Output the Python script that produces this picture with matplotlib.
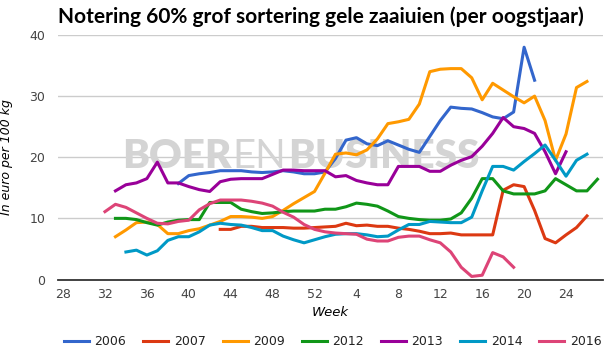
import numpy as np
import matplotlib
matplotlib.use("Agg")
import matplotlib.pyplot as plt

# categories: week 28 of the harvest year through week 27 of the next
weeks = list(range(28, 53)) + list(range(1, 28))
tick_weeks = [28, 32, 36, 40, 44, 48, 52, 4, 8, 12, 16, 20, 24]

N = None
y2006 = [N] * 11 + [15.7, 17.0, 17.3, 17.5, 17.8, 17.8, 17.8, 17.6, 17.5, 17.6,
                    17.8, 17.6, 17.3, 17.3, 17.6, 19.8, 22.8, 23.2, 22.2, 21.9,
                    22.7, 22.0, 21.3, 20.8, 23.4, 26.0, 28.2, 28.0, 27.9, 27.3,
                    26.6, 26.3, 27.4, 38.0, 32.6]
y2007 = [N] * 15 + [8.2, 8.2, 8.7, 8.7, 8.5, 8.5, 8.5, 8.4, 8.4, 8.5,
                    8.6, 8.7, 9.2, 8.8, 8.9, 8.7, 8.7, 8.4, 8.2, 7.9,
                    7.5, 7.5, 7.6, 7.3, 7.3, 7.3, 7.3, 14.6, 15.5, 15.2,
                    11.3, 6.7, 6.0, 7.3, 8.5, 10.4]
y2009 = [N] * 5 + [7.0, 8.1, 9.3, 9.4, 9.0, 7.5, 7.5, 8.0, 8.3, 8.9,
                   9.5, 10.3, 10.3, 10.2, 10.0, 10.3, 11.3, 12.4, 13.4, 14.4,
                   17.4, 20.5, 20.7, 20.4, 21.2, 23.0, 25.5, 25.8, 26.2, 28.7,
                   34.0, 34.4, 34.5, 34.5, 33.0, 29.4, 32.1, 31.0, 29.9, 28.9,
                   30.0, 26.0, 19.5, 23.8, 31.4, 32.4]
y2012 = [N] * 5 + [10.0, 10.0, 9.8, 9.3, 8.9, 9.4, 9.7, 9.8, 9.8, 12.6,
                   12.6, 12.6, 11.5, 11.1, 10.8, 10.9, 11.1, 11.2, 11.2, 11.2,
                   11.5, 11.5, 11.9, 12.5, 12.3, 12.0, 11.2, 10.3, 10.0, 9.8,
                   9.7, 9.7, 9.9, 10.9, 13.3, 16.5, 16.5, 14.5, 14.0, 14.0,
                   14.0, 14.5, 16.5, 15.5, 14.5, 14.5, 16.4]
y2013 = [N] * 5 + [14.5, 15.5, 15.8, 16.5, 19.2, 15.8, 15.8, 15.2, 14.7, 14.4,
                   16.0, 16.4, 16.5, 16.5, 16.5, 17.2, 17.9, 17.9, 17.8, 17.8,
                   17.8, 16.8, 17.0, 16.2, 15.8, 15.5, 15.5, 18.5, 18.5, 18.5,
                   17.7, 17.7, 18.7, 19.5, 20.1, 21.8, 23.9, 26.5, 25.0, 24.7,
                   23.9, 20.9, 17.3, 20.9]
y2014 = [N] * 6 + [4.5, 4.8, 4.0, 4.7, 6.4, 7.0, 7.0, 7.8, 8.9, 9.2,
                   9.0, 8.9, 8.5, 8.0, 8.0, 7.1, 6.5, 6.0, 6.5, 7.0,
                   7.4, 7.5, 7.5, 7.3, 7.0, 7.1, 8.1, 9.0, 9.0, 9.5,
                   9.4, 9.3, 9.3, 10.2, 14.5, 18.5, 18.5, 17.9, 19.3, 20.6,
                   22.0, 19.5, 16.9, 19.5, 20.5]
y2016 = [N] * 4 + [11.1, 12.3, 11.8, 10.9, 10.0, 9.2, 9.1, 9.5, 9.7, 11.4,
                   12.4, 13.0, 13.0, 13.0, 12.8, 12.5, 12.0, 11.0, 10.2, 9.0,
                   8.2, 7.8, 7.6, 7.5, 7.4, 6.6, 6.3, 6.3, 6.9, 7.1,
                   7.1, 6.5, 6.0, 4.5, 2.0, 0.5, 0.7, 4.4, 3.7, 2.0]

labels = ["2006", "2007", "2009", "2012", "2013", "2014", "2016"]
series = [y2006, y2007, y2009, y2012, y2013, y2014, y2016]
colors = ["#3366cc", "#dc3912", "#ff9900", "#109618", "#990099", "#0099c6", "#dd4477"]

fig = plt.figure(figsize=(6.15, 3.51), dpi=100)
ax = fig.add_axes([0.094, 0.2037, 0.886, 0.6966])

x = np.arange(len(weeks))
for lab, ys, col in zip(labels, series, colors):
    vals = np.array([np.nan if v is None else v for v in ys] +
                    [np.nan] * (len(weeks) - len(ys)), dtype=float)
    ax.plot(x, vals, color=col, linewidth=2.2, label=lab,
            solid_joinstyle="round", zorder=3)

ax.set_xlim(-0.5, len(weeks) - 0.5)
ax.set_ylim(0, 40)
ax.set_yticks([0, 10, 20, 30, 40])
ax.set_xticks([weeks.index(w) for w in tick_weeks])
ax.set_xticklabels([str(w) for w in tick_weeks])
ax.tick_params(axis="both", length=0, labelsize=9, colors="#444444")
ax.tick_params(axis="y", pad=9)
ax.tick_params(axis="x", pad=6)
ax.grid(axis="y", color="#cccccc", linewidth=1)
ax.set_axisbelow(True)
for s in ["top", "right", "left"]:
    ax.spines[s].set_visible(False)
ax.spines["bottom"].set_color("#333333")
ax.spines["bottom"].set_linewidth(1.3)
ax.spines["bottom"].set_zorder(4)

ax.set_xlabel("Week", fontsize=9.5, style="italic", labelpad=4)
ax.set_ylabel("In euro per 100 kg", fontsize=9, style="italic", labelpad=12)

# watermark
wm = dict(fontsize=29, color="#d4d4d4", zorder=1.5, va="center", family="Lato")
t1 = ax.text(122 / 615, 1 - 157 / 351, "BOER", transform=fig.transFigure,
             weight="heavy", **wm)
t2 = ax.annotate("EN", xy=(1, 0.5), xycoords=t1, ha="left", fontweight="normal",
                 xytext=(1, 0), textcoords="offset points", **wm)
t3 = ax.annotate("BUSINESS", xy=(1, 0.5), xycoords=t2, ha="left", fontweight="heavy",
                 xytext=(1, 0), textcoords="offset points", **wm)

fig.text(58 / 615, 1 - 17 / 351, "Notering 60% grof sortering gele zaaiuien (per oogstjaar)",
         fontsize=15, weight="bold", va="center", ha="left", family="Lato")

fig.legend(loc="center", bbox_to_anchor=(0.541, 0.026), ncol=7, frameon=False,
           fontsize=9, handlelength=2.0, handletextpad=0.45, columnspacing=1.35,
           labelcolor="#222222")

plt.savefig("out.png", dpi=100)
